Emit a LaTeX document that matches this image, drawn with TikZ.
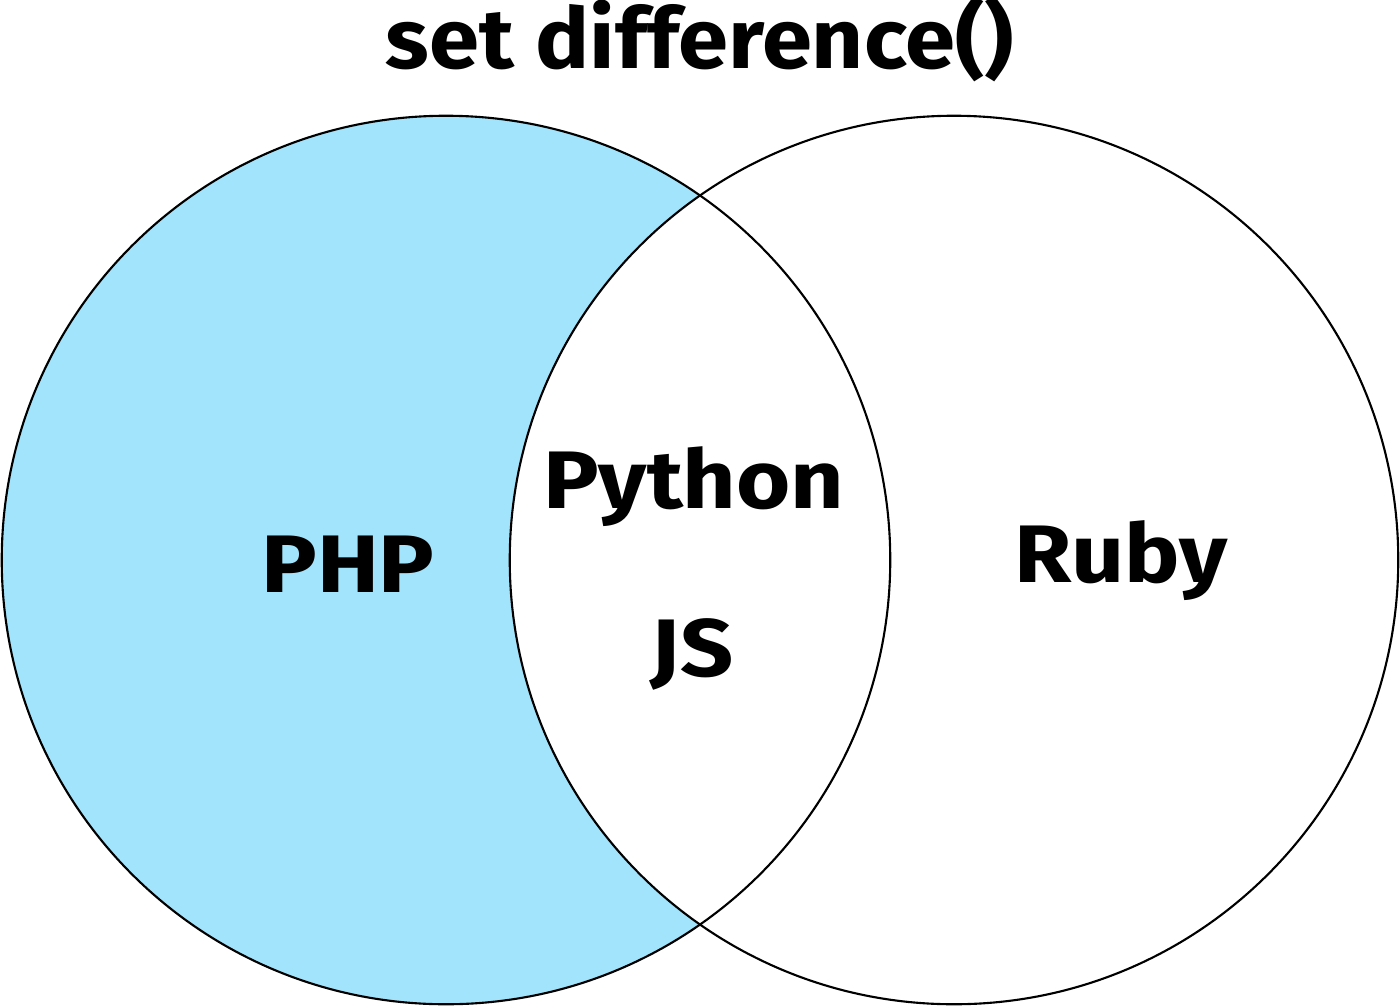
\documentclass[tikz,border=0pt]{standalone}
\usepackage{fontspec}
\setmainfont{Fira Sans}[FakeStretch=1.14]
\newfontfamily\headfont{Fira Sans}[FakeStretch=1.07]
\usepackage{tikz}
\usetikzlibrary{positioning}
\definecolor{diffblue}{HTML}{A2E4FC}
\tikzstyle{set} = [circle, minimum size=8.88cm, inner sep=0pt, line width=0.6pt]
\tikzstyle{label} = [font=\bfseries\fontsize{23.2}{28}\selectfont, inner sep=0pt, anchor=base]
\tikzstyle{heading} = [font=\headfont\bfseries\fontsize{24}{28}\selectfont, inner sep=0pt, anchor=base]

\begin{document}
\begin{tikzpicture}[x=0.01cm, y=-0.01cm]
\useasboundingbox (0,0) rectangle (1400,1006);

\node (left) [set, fill=diffblue] at (446,560) {};
\node (right) [set, fill=white] at (954,560) {};
\node [set, draw=black] at (left) {};
\node [set, draw=black] at (right) {};

\node (title) [heading] at (700,68) {set difference()};
\node (php) [label] at (348,592) {PHP};
\node (python) [label] at (694,508) {Python};
\node (js) [label] at (692,676) {JS};
\node (ruby) [label] at (1121,582) {Ruby};
\end{tikzpicture}
\end{document}
